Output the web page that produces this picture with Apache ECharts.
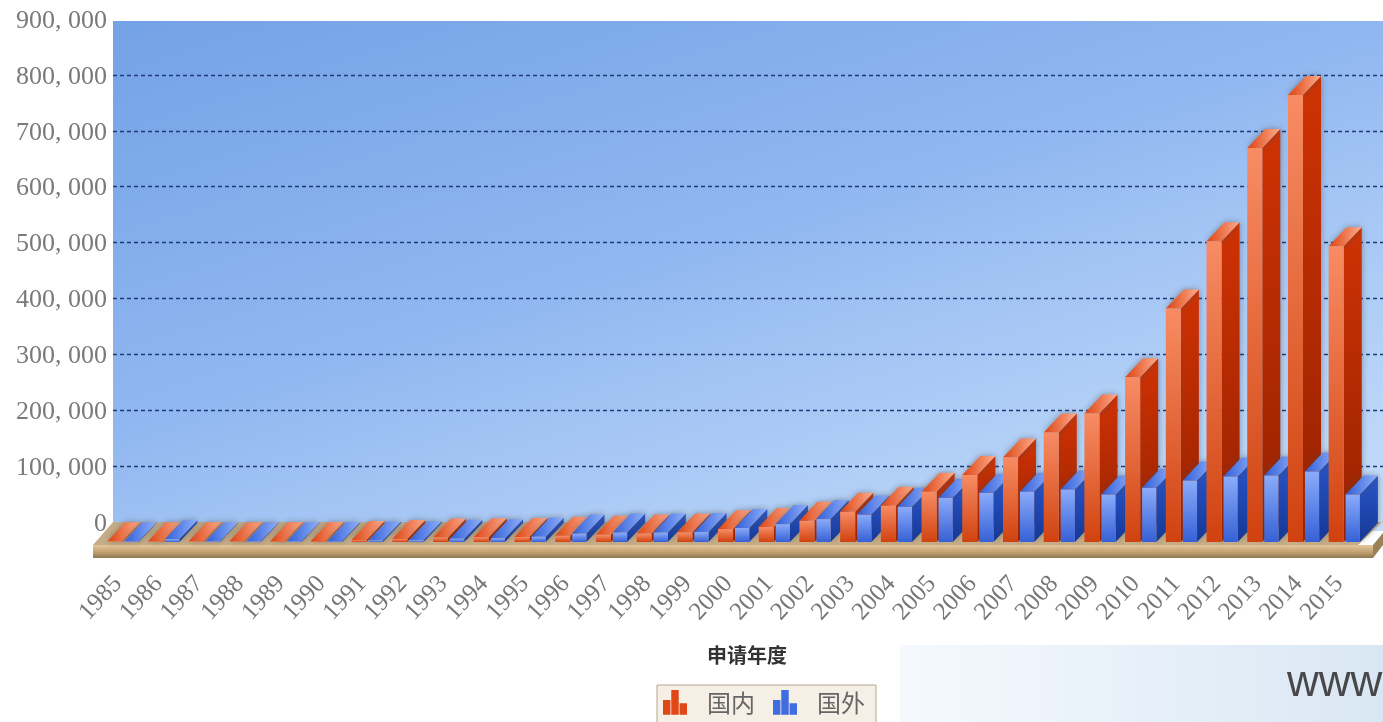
<!DOCTYPE html>
<html><head><meta charset="utf-8">
<style>html,body{margin:0;padding:0;background:#fff;overflow:hidden}#c{width:1383px;height:722px}</style>
<script src="https://cdn.jsdelivr.net/npm/echarts@6/dist/echarts.min.js"></script>
</head><body><div id="c"></div>
<script>
const years = ['1985','1986','1987','1988','1989','1990','1991','1992','1993','1994','1995','1996','1997','1998','1999','2000','2001','2002','2003','2004','2005','2006','2007','2008','2009','2010','2011','2012','2013','2014','2015'];
const domestic = [1200,1500,1300,1400,1500,1800,3500,5500,8000,8500,9000,11000,13000,15000,17000,23000,27000,38000,54000,65000,90000,120000,151000,196000,230000,295000,418000,538000,705000,800000,529000];
const foreign = [1500,5000,1500,1500,1500,1800,2500,3000,6000,6500,9500,15000,17000,17000,18000,25000,32000,41000,49000,63000,79000,88000,90000,94000,85000,97000,110000,117000,119000,126000,85000];
const seriesNames = ['国内','国外'];
const yMax = 900000, yStep = 100000;

const DX = 18, DY = 19;
const skins = [
  {front:['#f88c64','#d0420f'], side:['#cf3204','#962200'], top:['#ffac8c','#dc4412'], off:-16, wFrac:.37},
  {front:['#8aacfa','#3660d6'], side:['#2a56cc','#163894'], top:['#8eb0fa','#325fd8'], off:1, wFrac:.35}
];
function grad(a,b,h){return new echarts.graphic.LinearGradient(h?1:0,0,0,h?0:1,[{offset:0,color:a},{offset:1,color:b}]);}
function makeRender(si){
  const s = skins[si];
  return function(params, api){
    const i = api.value(0), v = api.value(1);
    const p0 = api.coord([i,0]), p1 = api.coord([i,v]);
    const w = api.size([1,0])[0]*s.wFrac;
    const x = p0[0]+s.off, yb = p0[1], yt = p1[1];
    const z = i*4+si*2+2;
    const shadow = {shadowBlur:6,shadowColor:'rgba(70,70,70,.5)'};
    return {type:'group',children:[
      {type:'polygon',z2:z,shape:{points:[[x+w,yb],[x+w+DX,yb-DY],[x+w+DX,yt-DY],[x+w,yt]]},style:Object.assign({fill:grad(s.side[0],s.side[1])},shadow)},
      {type:'polygon',z2:z,shape:{points:[[x,yt],[x+DX,yt-DY],[x+w+DX,yt-DY],[x+w,yt]]},style:Object.assign({fill:grad(s.top[0],s.top[1],true)},shadow)},
      {type:'rect',z2:z+1,shape:{x:x,y:yt,width:w,height:Math.max(yb-yt,0.5)},style:{fill:grad(s.front[0],s.front[1])}}
    ]};
  };
}
const font = '"Liberation Serif"';
const chart = echarts.init(document.getElementById('c'));
const wallGrad = new echarts.graphic.LinearGradient(0,0,0.204,1.62,[
  {offset:0,color:'#74a2e6'},{offset:.45,color:'#90b7f0'},{offset:.6,color:'#a2c4f4'},{offset:1,color:'#c6defa'}]);
const option = {
  animation:false,
  backgroundColor:'#fff',
  color:['#e04818','#3f6ce0'],
  title:{text:'申请年度',left:702,top:640,textStyle:{fontFamily:'"Noto Sans CJK SC"',fontSize:20,fontWeight:'bold',color:'#333'}},
  legend:{left:657,top:685,orient:'horizontal',data:seriesNames,
    icon:'path://M0 12H9V30H0ZM10 0H19V30H10ZM20 16H29V30H20Z',
    itemWidth:24,itemHeight:26,itemGap:18,padding:[5,11,8,6],
    backgroundColor:'#f6efe6',borderColor:'#b9a68e',borderWidth:1,
    textStyle:{fontFamily:'"Noto Sans CJK SC"',fontSize:24,fontWeight:400,color:'#666',padding:[0,0,0,15]}},
  grid:[
    {left:113,right:0,top:19,height:503,containLabel:false},
    {left:103,width:1262,top:39,height:503,containLabel:false},
    {left:113,right:0,top:21,height:503,containLabel:false}
  ],
  xAxis:[
    {gridIndex:0,type:'value',min:0,max:1,show:false},
    {gridIndex:1,type:'category',data:years,axisLine:{show:false},axisTick:{show:false},splitLine:{show:false},
      axisLabel:{interval:0,rotate:47,margin:32,padding:[0,8,0,0],fontFamily:font,fontSize:25,color:'#777'}},
    {gridIndex:2,type:'value',min:0,max:1,show:false}
  ],
  yAxis:[
    {gridIndex:0,type:'value',min:0,max:yMax,interval:yStep,axisLine:{show:false},axisTick:{show:false},axisLabel:{show:false},
      splitLine:{show:true,showMinLine:false,showMaxLine:false,lineStyle:{color:'#1e3a78',type:[4,3],width:1.3}}},
    {gridIndex:1,type:'value',min:0,max:yMax,interval:yStep,show:false},
    {gridIndex:2,type:'value',min:0,max:yMax,interval:yStep,axisLine:{show:false},axisTick:{show:false},splitLine:{show:false},
      axisLabel:{margin:6,fontFamily:font,fontSize:26,color:'#7a7a7a',
        formatter:v=>{const s=String(v);return v===0?'0':s.slice(0,-3)+', '+s.slice(-3);}}}
  ],
  graphic:{elements:[
    {type:'rect',z:-1,shape:{x:113,y:21,width:1270,height:510},style:{fill:wallGrad}},
    {type:'polygon',z:1,shape:{points:[[93,545],[113,522],[1383,522],[1383,521],[1358,545]]},style:{fill:'#c6ad88'}},
    {type:'rect',z:1,shape:{x:93,y:545,width:1280,height:13},style:{fill:new echarts.graphic.LinearGradient(0,0,0,1,[{offset:0,color:'#e6c79c'},{offset:.6,color:'#bd9c6c'},{offset:1,color:'#8e7650'}])}},
    {type:'polygon',z:1,shape:{points:[[1373,545],[1383,533],[1383,545],[1373,558]]},style:{fill:'#9a8258'}},
    {type:'rect',z:-1,shape:{x:900,y:645,width:483,height:77},style:{fill:new echarts.graphic.LinearGradient(0,0,1,0,[{offset:0,color:'#f5f9fd'},{offset:1,color:'#d9e7f4'}])}},
    {type:'text',z:1,left:1287,top:662,style:{text:'www',fontFamily:'"Liberation Sans"',fontSize:44,fill:'#484848'}}
  ]},
  series:[0,1].map(si=>({
    name:seriesNames[si],type:'custom',xAxisIndex:1,yAxisIndex:1,z:2,clip:false,
    encode:{x:0,y:1},
    renderItem:makeRender(si),
    data:(si===0?domestic:foreign).map((v,i)=>[i,v])
  }))
};
chart.setOption(option);
</script></body></html>
